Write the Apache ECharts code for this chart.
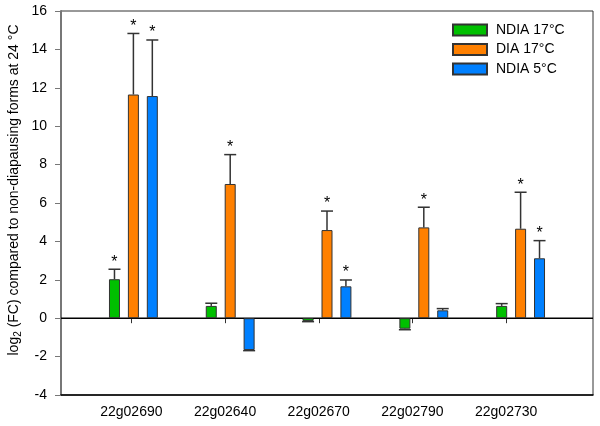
<!DOCTYPE html>
<html><head><meta charset="utf-8">
<script src="https://cdn.jsdelivr.net/npm/echarts@6/dist/echarts.min.js"></script>
<style>html,body{margin:0;padding:0;background:#fff}#c{width:600px;height:426px}</style>
</head><body><div id="c"></div>
<script>
const categories = ['22g02690','22g02640','22g02670','22g02790','22g02730'];
const seriesNames = ['NDIA 17°C','DIA 17°C','NDIA 5°C'];
const ndia17 = [2.03, 0.64, -0.15, -0.55, 0.64];
const dia17  = [11.65, 6.99, 4.59, 4.73, 4.66];
const ndia5  = [11.57, -1.66, 1.66, 0.41, 3.12];
const ndia17Err = [0.52, 0.14, 0.03, 0.05, 0.12];
const dia17Err  = [3.18, 1.53, 0.99, 1.05, 1.90];
const ndia5Err  = [2.92, 0.03, 0.33, 0.09, 0.92];
const ndia17Sig = [1,0,0,0,0];
const dia17Sig  = [1,1,1,1,1];
const ndia5Sig  = [1,0,1,0,1];
const yMin = -4, yMax = 16, yStep = 2;
const zeroLine = [[0,0],[1,0]];

const colors = ['#00C000','#FF8000','#0080FF'];
const FONT = 'Liberation Sans, Arial, sans-serif';
const BAR_W = 11, BAR_GAP = 0.72, STEP = BAR_W*(1+BAR_GAP);

function barSeries(name, vals, k){
  return {name, type:'bar', xAxisIndex:1, yAxisIndex:1, data:vals, barWidth:BAR_W, barGap:(BAR_GAP*100)+'%',
    itemStyle:{color:colors[k], borderColor:'#333', borderWidth:1}, z:2, silent:true};
}
function errSeries(vals, errs, sigs, k){
  return {type:'custom', xAxisIndex:1, yAxisIndex:1, silent:true, z:3, encode:{x:0,y:1},
    data: vals.map((v,i)=>[i, v, errs[i], sigs[i]]),
    renderItem(params, api){
      const i=api.value(0), v=api.value(1), e=api.value(2), s=api.value(3);
      const end = v>=0 ? v+e : v-e;
      const base = api.coord([i, v]), tip = api.coord([i, end]);
      const x = base[0] + (k-1)*STEP;
      const st = {stroke:'#333', lineWidth:1.5};
      const ch = [
        {type:'line', shape:{x1:x,y1:base[1],x2:x,y2:tip[1]}, style:st},
        {type:'line', shape:{x1:x-6,y1:tip[1],x2:x+6,y2:tip[1]}, style:st}
      ];
      if (s) ch.push({type:'text', x:x, y:tip[1]+1, style:{text:'*', fontSize:16, fontFamily:FONT, fill:'#000', align:'center', verticalAlign:'bottom'}});
      return {type:'group', children:ch};
    }};
}

const chart = echarts.init(document.getElementById('c'), null, {renderer:'canvas'});
chart.setOption({
  animation:false,
  backgroundColor:'#fff',
  textStyle:{fontFamily:FONT},
  grid:[
    {left:61, right:7, top:11, bottom:31, show:true, borderColor:'#333', borderWidth:1, backgroundColor:'transparent'},
    {left:85, right:31, top:11, bottom:31},
    {left:84.5, right:47, top:11, bottom:31}
  ],
  xAxis:[
    {gridIndex:0, type:'value', min:0, max:1, axisLine:{show:true, onZero:false, lineStyle:{color:'#000', width:1.5}}, axisTick:{show:false}, axisLabel:{show:false}, splitLine:{show:false}},
    {gridIndex:1, type:'category', data:categories, show:false},
    {gridIndex:2, type:'category', data:categories, axisLine:{show:false}, axisTick:{show:true, alignWithLabel:true, length:5, lineStyle:{color:'#333'}},
      axisLabel:{fontSize:14, color:'#000', margin:10, fontFamily:FONT}, splitLine:{show:false}}
  ],
  yAxis:[
    {gridIndex:0, type:'value', min:yMin, max:yMax, interval:yStep, axisLine:{show:true, lineStyle:{color:'#777', width:2}},
      axisTick:{show:true, length:6, lineStyle:{color:'#777'}}, axisLabel:{fontSize:14, color:'#000', margin:14, fontFamily:FONT}, splitLine:{show:false}},
    {gridIndex:1, type:'value', min:yMin, max:yMax, interval:yStep, show:false, splitLine:{show:false}},
    {gridIndex:2, type:'value', min:yMin, max:yMax, interval:yStep, show:false, splitLine:{show:false}}
  ],
  legend:{data:seriesNames, orient:'vertical', left:447, top:18, itemWidth:34, itemHeight:11, itemGap:5.5,
    textStyle:{fontSize:14, color:'#000', fontFamily:FONT, padding:[0,0,0,4]}, icon:'rect', selectedMode:false},
  graphic:[{type:'text', x:14, y:190, rotation:Math.PI/2,
    style:{text:'{a|log}{s|2}{a| (FC) compared to non-diapausing forms at 24 °C}', align:'center', verticalAlign:'middle',
      rich:{a:{fontSize:14, fontFamily:FONT, fill:'#000', lineHeight:18}, s:{fontSize:10, fontFamily:FONT, fill:'#000', lineHeight:10, verticalAlign:'bottom'}}}}],
  series:[
    {type:'line', xAxisIndex:0, yAxisIndex:0, data:zeroLine, symbol:'none', lineStyle:{color:'#000', width:1.5}, silent:true, z:1},
    barSeries(seriesNames[0], ndia17, 0),
    barSeries(seriesNames[1], dia17, 1),
    barSeries(seriesNames[2], ndia5, 2),
    errSeries(ndia17, ndia17Err, ndia17Sig, 0),
    errSeries(dia17, dia17Err, dia17Sig, 1),
    errSeries(ndia5, ndia5Err, ndia5Sig, 2)
  ]
});
</script></body></html>
